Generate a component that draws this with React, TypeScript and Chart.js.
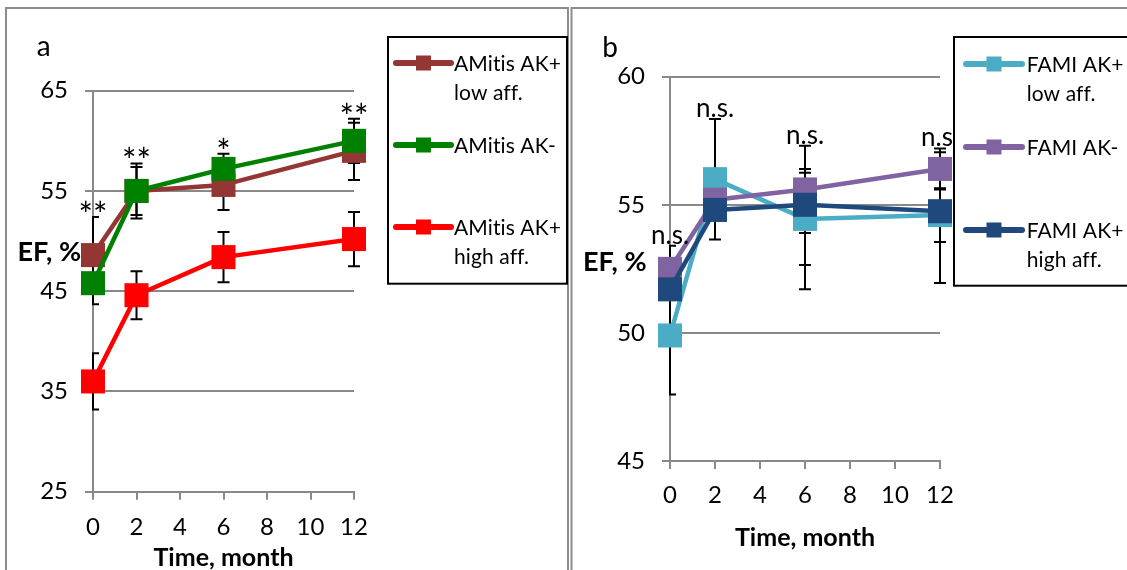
import React, { useEffect, useRef } from "react";
import { Chart, registerables } from "chart.js";

Chart.register(...registerables);

const FONT = "Lato";
const GRID = "#898989";
const FRAME = "#8c8c8c";

const months = [0, 2, 6, 12];

// ---------- Panel a ----------
const aYTicks = { min: 25, max: 65, step: 10 };
const aLowAffLabel = ["AMitis AK+", "low aff."];
const aLowAffValues = [48.6, 55.0, 55.6, 59.0];
const aLowAffErrUp = [3.8, 2.4, 2.5, 2.8];
const aLowAffErrDown = [3.8, 2.4, 2.5, 2.9];
const aNegLabel = ["AMitis AK-"];
const aNegValues = [45.8, 55.0, 57.2, 60.0];
const aNegErrUp = [2.1, 2.75, 1.5, 2.2];
const aNegErrDown = [2.1, 2.75, 1.5, 2.2];
const aHighAffLabel = ["AMitis AK+", "high aff."];
const aHighAffValues = [36.0, 44.6, 48.4, 50.2];
const aHighAffErrUp = [2.8, 2.4, 2.5, 2.7];
const aHighAffErrDown = [2.8, 2.4, 2.5, 2.7];
const aSignificance = ["**", "**", "*", "**"];

// ---------- Panel b ----------
const bYTicks = { min: 45, max: 60, step: 5 };
const bLowAffLabel = ["FAMI AK+", "low aff."];
const bLowAffValues = [49.9, 56.0, 54.45, 54.6];
const bLowAffErrUp = [2.3, 2.35, 1.8, 1.05];
const bLowAffErrDown = [2.3, 2.35, 1.8, 1.05];
const bNegLabel = ["FAMI AK-"];
const bNegValues = [52.5, 55.2, 55.6, 56.4];
const bNegErrUp = [0.4, 0.3, 1.7, 0.8];
const bNegErrDown = [0.4, 0.3, 1.7, 0.8];
const bHighAffLabel = ["FAMI AK+", "high aff."];
const bHighAffValues = [51.7, 54.8, 55.0, 54.75];
const bHighAffErrUp = [1.7, 0.3, 1.4, 2.3];
const bHighAffErrDown = [1.7, 0.3, 3.3, 2.8];
const bSignificance = ["n.s.", "n.s.", "n.s.", "n.s."];

const xTitle = "Time, month";
const yTitle = "EF, %";

type Series = {
  label: string[];
  color: string;
  values: number[];
  up: number[];
  down: number[];
  order: number;
};

type PanelSpec = {
  left: number;
  width: number;
  height: number;
  y: { min: number; max: number; step: number };
  area: { left: number; right: number; top: number; bottom: number };
  series: Series[];
  sig: string[];
  sigFont: number;
  sigGap: number;
  frameX: number;
  letter: string;
  letterX: number;
  letterY: number;
  efX: number;
  efY: number;
  legend: {
    x: number;
    y: number;
    w: number;
    h: number;
    lineX1: number;
    lineX2: number;
    textX: number;
    itemY: number[];
  };
  titlePad: number;
  tickPad: number;
};

const panelA: PanelSpec = {
  left: 0,
  width: 570,
  height: 570,
  y: aYTicks,
  area: { left: 93, right: 354, top: 90.7, bottom: 491.7 },
  series: [
    { label: aLowAffLabel, color: "#943634", values: aLowAffValues, up: aLowAffErrUp, down: aLowAffErrDown, order: 3 },
    { label: aNegLabel, color: "#008000", values: aNegValues, up: aNegErrUp, down: aNegErrDown, order: 2 },
    { label: aHighAffLabel, color: "#FF0000", values: aHighAffValues, up: aHighAffErrUp, down: aHighAffErrDown, order: 1 },
  ],
  sig: aSignificance,
  sigFont: 34,
  sigGap: -10,
  frameX: 6,
  letter: "a",
  letterX: 43.6,
  letterY: 56,
  efX: 17.5,
  efY: 260.7,
  legend: { x: 388, y: 37, w: 179, h: 246.7, lineX1: 396, lineX2: 451, textX: 454, itemY: [63, 145, 227] },
  titlePad: -3,
  tickPad: 13,
};

const panelB: PanelSpec = {
  left: 570,
  width: 557,
  height: 570,
  y: bYTicks,
  area: { left: 100, right: 370, top: 76.7, bottom: 461 },
  series: [
    { label: bLowAffLabel, color: "#4BACC6", values: bLowAffValues, up: bLowAffErrUp, down: bLowAffErrDown, order: 3 },
    { label: bNegLabel, color: "#8064A2", values: bNegValues, up: bNegErrUp, down: bNegErrDown, order: 2 },
    { label: bHighAffLabel, color: "#1F497D", values: bHighAffValues, up: bHighAffErrUp, down: bHighAffErrDown, order: 1 },
  ],
  sig: bSignificance,
  sigFont: 26,
  sigGap: 2,
  frameX: 1.5,
  letter: "b",
  letterX: 40,
  letterY: 57.3,
  efX: 13,
  efY: 270.7,
  legend: { x: 384, y: 37, w: 200, h: 248.7, lineX1: 396, lineX2: 452, textX: 456.7, itemY: [64, 147, 230] },
  titlePad: 17,
  tickPad: 11.5,
};

function noLigatures(ctx: any) {
  try {
    ctx.textRendering = "optimizeSpeed";
  } catch (e) {}
  try {
    ctx.letterSpacing = "0.1px";
  } catch (e) {}
}

function decorPlugin(spec: PanelSpec) {
  return {
    id: "panelDecor",
    beforeDraw(chart: any) {
      const ctx = chart.ctx;
      ctx.save();
      ctx.fillStyle = "#fff";
      ctx.fillRect(0, 0, chart.width, chart.height);
      ctx.strokeStyle = FRAME;
      ctx.lineWidth = 2;
      ctx.strokeRect(spec.frameX, 8, 562, 700);
      ctx.fillStyle = "#000";
      ctx.textBaseline = "alphabetic";
      ctx.textAlign = "center";
      ctx.font = `28px ${FONT}`;
      ctx.fillText(spec.letter, spec.letterX, spec.letterY);
      ctx.textAlign = "left";
      ctx.font = `bold 27px ${FONT}`;
      ctx.fillText(yTitle, spec.efX, spec.efY);
      ctx.restore();
    },
    beforeDatasetsDraw(chart: any) {
      const ctx = chart.ctx;
      const xs = chart.scales.x;
      const ys = chart.scales.y;
      ctx.save();
      ctx.beginPath();
      ctx.rect(chart.chartArea.left - 1, 0, chart.width, chart.height);
      ctx.clip();
      ctx.strokeStyle = "#000";
      ctx.lineWidth = 2;
      spec.series.forEach((s) => {
        s.values.forEach((v, i) => {
          const x = xs.getPixelForValue(months[i]);
          const yt = ys.getPixelForValue(v + s.up[i]);
          const yb = ys.getPixelForValue(v - s.down[i]);
          ctx.beginPath();
          ctx.moveTo(x, yt);
          ctx.lineTo(x, yb);
          ctx.moveTo(x - 6, yt);
          ctx.lineTo(x + 6, yt);
          ctx.moveTo(x - 6, yb);
          ctx.lineTo(x + 6, yb);
          ctx.stroke();
        });
      });
      ctx.restore();
    },
    afterDatasetsDraw(chart: any) {
      const ctx = chart.ctx;
      const xs = chart.scales.x;
      const ys = chart.scales.y;
      ctx.save();
      ctx.fillStyle = "#000";
      ctx.textAlign = "center";
      ctx.textBaseline = "alphabetic";
      ctx.font = `${spec.sigFont}px ${FONT}`;
      spec.sig.forEach((t, i) => {
        const x = xs.getPixelForValue(months[i]);
        let top = Infinity;
        spec.series.forEach((s) => {
          top = Math.min(top, ys.getPixelForValue(s.values[i] + s.up[i]));
        });
        ctx.fillText(t, x, top - spec.sigGap);
      });
      ctx.restore();
    },
    afterDraw(chart: any) {
      const ctx = chart.ctx;
      const L = spec.legend;
      ctx.save();
      ctx.fillStyle = "#fff";
      ctx.fillRect(L.x, L.y, L.w, L.h);
      ctx.strokeStyle = "#000";
      ctx.lineWidth = 2;
      ctx.strokeRect(L.x, L.y, L.w, L.h);
      spec.series.forEach((s, k) => {
        const y = L.itemY[k];
        ctx.strokeStyle = s.color;
        ctx.lineWidth = 6;
        ctx.lineCap = "round";
        ctx.beginPath();
        ctx.moveTo(L.lineX1, y);
        ctx.lineTo(L.lineX2, y);
        ctx.stroke();
        ctx.fillStyle = s.color;
        const mx = (L.lineX1 + L.lineX2) / 2;
        ctx.fillRect(mx - 7.5, y - 7.5, 15, 15);
        ctx.fillStyle = "#000";
        ctx.font = `21px ${FONT}`;
        noLigatures(ctx);
        ctx.textAlign = "left";
        ctx.textBaseline = "alphabetic";
        s.label.forEach((t, j) => ctx.fillText(t, L.textX, y + 7.5 + j * 29));
      });
      ctx.restore();
    },
  };
}

function Panel({ spec }: { spec: PanelSpec }) {
  const ref = useRef<HTMLCanvasElement | null>(null);
  useEffect(() => {
    if (!ref.current) return;
    const chart = new Chart(ref.current, {
      type: "line",
      data: {
        datasets: spec.series.map((s) => ({
          label: s.label.join(" "),
          data: months.map((m, i) => ({ x: m, y: s.values[i] })),
          borderColor: s.color,
          backgroundColor: s.color,
          borderWidth: 4.5,
          borderJoinStyle: "round",
          borderCapStyle: "round",
          pointStyle: "rect",
          pointRadius: 17,
          pointHoverRadius: 17,
          pointBorderWidth: 0,
          pointBackgroundColor: s.color,
          tension: 0,
          order: s.order,
          clip: false,
        })),
      } as any,
      options: {
        responsive: false,
        animation: false,
        devicePixelRatio: 1,
        events: [],
        layout: {
          padding: { left: 0, top: spec.area.top, right: spec.width - spec.area.right, bottom: 0 },
        },
        plugins: { legend: { display: false }, tooltip: { enabled: false } },
        scales: {
          x: {
            type: "linear",
            min: 0,
            max: 12,
            ticks: {
              stepSize: 2,
              autoSkip: false,
              maxRotation: 0,
              padding: spec.tickPad,
              color: "#000",
              font: { family: FONT, size: 24 },
            },
            grid: { drawOnChartArea: false, drawTicks: true, tickLength: 8, color: GRID, lineWidth: 2 },
            border: { display: true, color: GRID, width: 2 },
            title: {
              display: true,
              text: xTitle,
              color: "#000",
              font: { family: FONT, size: 25, weight: "bold" },
              padding: { top: 0, bottom: spec.titlePad },
            },
            afterFit: (s: any) => {
              s.height = spec.height - spec.area.bottom;
            },
          },
          y: {
            type: "linear",
            min: spec.y.min,
            max: spec.y.max,
            ticks: {
              stepSize: spec.y.step,
              padding: 17,
              color: "#000",
              font: { family: FONT, size: 24 },
            },
            grid: { drawTicks: true, tickLength: 8, color: GRID, lineWidth: 2 },
            border: { display: true, color: GRID, width: 2 },
            afterFit: (s: any) => {
              s.width = spec.area.left;
            },
          },
        },
      } as any,
      plugins: [decorPlugin(spec)],
    });
    return () => chart.destroy();
  }, [spec]);
  return (
    <canvas
      ref={ref}
      width={spec.width}
      height={spec.height}
      style={{ position: "absolute", left: spec.left, top: 0, width: spec.width, height: spec.height }}
    />
  );
}

export default function App() {
  return (
    <div
      style={{
        position: "fixed",
        left: 0,
        top: 0,
        width: 1127,
        height: 570,
        overflow: "hidden",
        background: "#fff",
      }}
    >
      <Panel spec={panelA} />
      <Panel spec={panelB} />
    </div>
  );
}
